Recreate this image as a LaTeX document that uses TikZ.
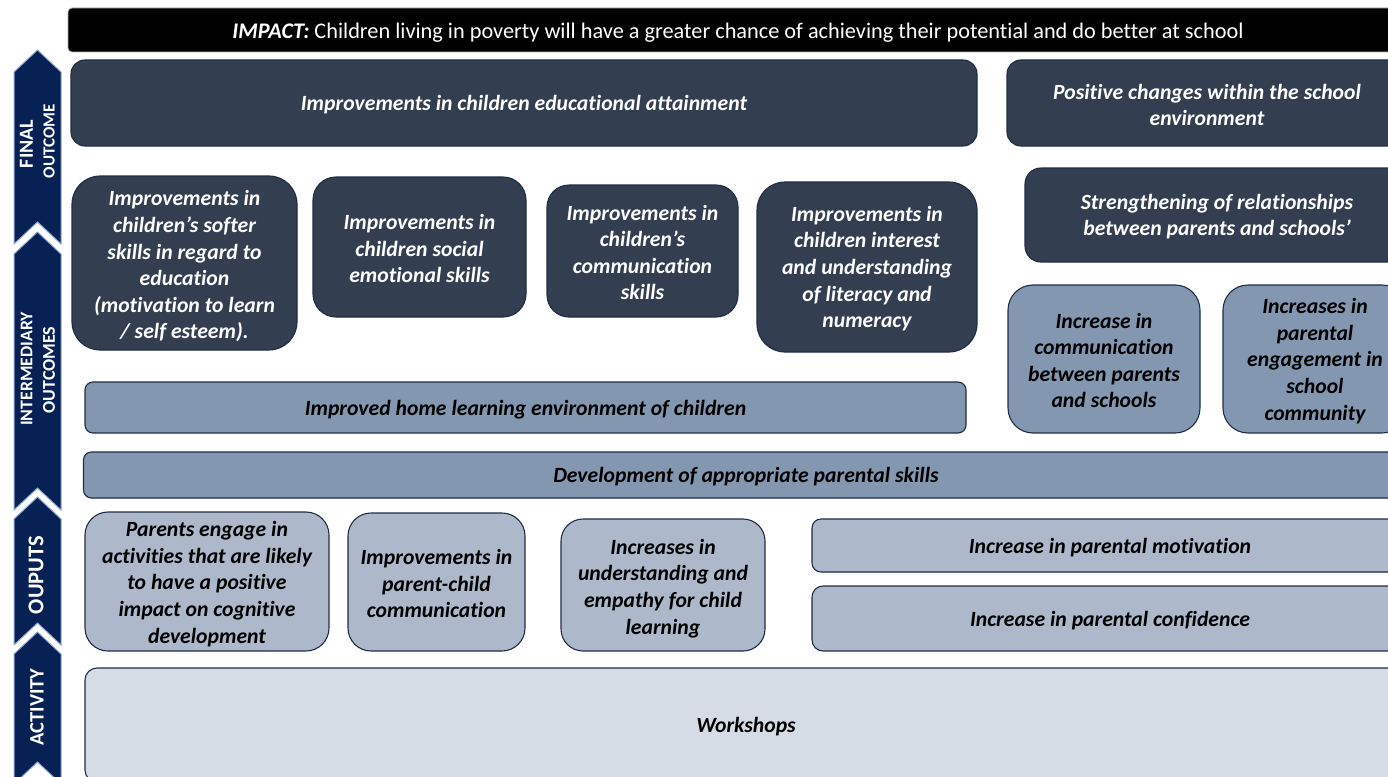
\documentclass[tikz,border=0pt]{standalone}
\usepackage{fontspec}
\setmainfont{Carlito}[Ligatures={NoCommon}]
\definecolor{navy}{RGB}{8,33,85}
\definecolor{navyline}{RGB}{143,170,215}
\definecolor{dk}{HTML}{333F50}
\definecolor{md}{HTML}{8497B0}
\definecolor{lt}{HTML}{ADB9CA}
\definecolor{xl}{HTML}{D6DCE5}
\definecolor{bd}{HTML}{1F2D45}
\tikzset{
  box/.style={draw=bd, line width=1.1pt, inner sep=0pt},
  dkbox/.style={box, fill=dk},
  mdbox/.style={box, fill=md},
  ltbox/.style={box, fill=lt},
  xlbox/.style={box, fill=xl},
  txt/.style={align=center, inner sep=0pt, font=\bfseries\itshape\fontsize{21.7}{26.6}\selectfont},
  chev/.style={fill=navy, draw=navyline, line width=1pt},
  chevtext/.style={text=white, rotate=90, inner sep=0pt, anchor=center}
}
% name, box style, text colour, cx, cy, w, h, r, text shift, text
\newcommand\bx[9]{%
  \node[#2, minimum width=#6pt, minimum height=#7pt, rounded corners=#8pt] (#1) at (#4,#5) {};
  \node[txt, text=#3] (#1-t) at ([yshift=-#9pt]#1.center) {\bxtext};}
\begin{document}
\begin{tikzpicture}[x=1pt,y=-1pt]
\useasboundingbox (0,0) rectangle (1388,776);
\clip (0,0) rectangle (1388,776);
% left chevron bar
\newcommand\chevseg[2]{% top apex, bottom apex
  \path[chev] (14,#1+22) -- (37.5,#1) -- (61,#1+22) -- (61,#2+22) -- (37.5,#2) -- (14,#2+22) -- cycle;}
\chevseg{50}{222}
\chevseg{232}{488}
\chevseg{497}{623}
\chevseg{632}{762}
\node[chevtext, font=\bfseries\fontsize{20}{20}\selectfont] (t1a) at (26.5,144) {FINAL};
\node[chevtext, font=\bfseries\fontsize{17}{17}\selectfont] (t1b) at (49,141) {OUTCOME};
\node[chevtext, font=\bfseries\fontsize{17.8}{17}\selectfont] (t2a) at (26.5,369) {INTERMEDIARY};
\node[chevtext, font=\bfseries\fontsize{18}{17}\selectfont] (t2b) at (49,370) {OUTCOMES};
\node[chevtext, font=\bfseries\fontsize{22.5}{22}\selectfont] (t3) at (36,575) {OUPUTS};
\node[chevtext, font=\bfseries\fontsize{20.5}{22}\selectfont] (t4) at (37,707) {ACTIVITY};
% impact bar
\node[fill=black, draw=gray!60, line width=0.7pt, rounded corners=4pt, minimum width=1340pt, minimum height=44pt, inner sep=0pt] (impact) at (738,30) {};
\node[text=white, inner sep=0pt, font=\fontsize{22.3}{24}\selectfont] (impact-t) at ([yshift=-3pt]impact.center)
  {\textbf{\textit{IMPACT:}} Children living in poverty will have a greater chance of achieving their potential and do better at school};
% final outcomes
\def\bxtext{Improvements in children educational attainment}
\bx{fa}{dkbox}{white}{524}{103}{906}{86}{14}{2}
\def\bxtext{Positive changes within the school\\environment}
\bx{fb}{dkbox}{white}{1207}{103}{400}{86}{14}{2}
% intermediary dark
\def\bxtext{Improvements in\\children’s softer\\skills in regard to\\education\\(motivation to learn\\/ self esteem).}
\bx{ia}{dkbox}{white}{184.5}{263}{225}{174}{28}{3.5}
\def\bxtext{Improvements in\\children social\\emotional skills}
\bx{ib}{dkbox}{white}{419.5}{247}{213}{140}{23}{1.5}
\def\bxtext{Improvements in\\children’s\\communication\\skills}
\bx{ic}{dkbox}{white}{642.5}{251}{191}{132}{22}{1.5}
\def\bxtext{Improvements in\\children interest\\and understanding\\of literacy and\\numeracy}
\bx{id}{dkbox}{white}{867}{267}{220}{170}{28}{1.5}
\def\bxtext{Strengthening of relationships\\between parents and schools’}
\bx{ie}{dkbox}{white}{1217}{215}{384}{94}{16}{1.5}
% intermediary mid
\def\bxtext{Improved home learning environment of children}
\bx{ih}{mdbox}{black}{525.5}{407.5}{881}{51}{8}{2}
\def\bxtext{Increase in\\communication\\between parents\\and schools}
\bx{ii}{mdbox}{black}{1104}{359}{192}{148}{25}{1.5}
\def\bxtext{Increases in\\parental\\engagement in\\school\\community}
\bx{ij}{mdbox}{black}{1315}{359}{184}{148}{25}{2}
\def\bxtext{Development of appropriate parental skills}
\bx{dev}{mdbox}{black}{746}{475}{1325}{46}{8}{2}
% outputs
\def\bxtext{Parents engage in\\activities that are likely\\to have a positive\\impact on cognitive\\development}
\bx{oa}{ltbox}{black}{207}{581.5}{244}{139}{23}{2.5}
\def\bxtext{Improvements in\\parent-child\\communication}
\bx{ob}{ltbox}{black}{436.5}{582}{177}{138}{23}{1.5}
\def\bxtext{Increases in\\understanding and\\empathy for child\\learning}
\bx{oc}{ltbox}{black}{663}{585}{204}{132}{22}{3.5}
\def\bxtext{Increase in parental motivation}
\bx{od}{ltbox}{black}{1110}{545.5}{596}{53}{9}{2}
\def\bxtext{Increase in parental confidence}
\bx{oe}{ltbox}{black}{1110}{618.5}{596}{65}{11}{2}
% activity
\def\bxtext{Workshops}
\bx{act}{xlbox}{black}{746}{725}{1322}{114}{12}{2}
\end{tikzpicture}
\end{document}
